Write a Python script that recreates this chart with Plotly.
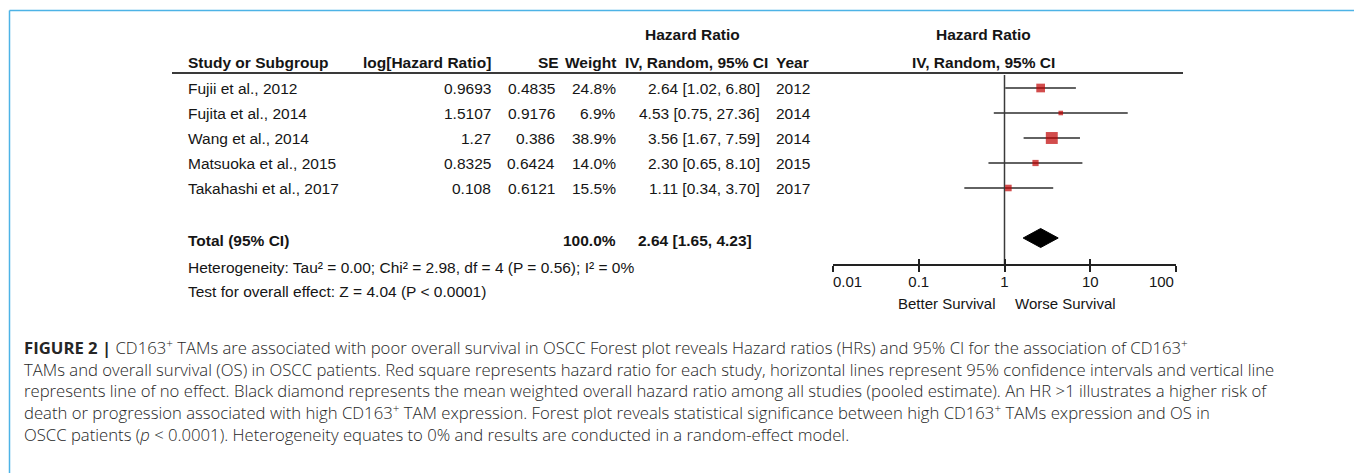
import plotly.graph_objects as go

# ---------------- data ----------------
studies = ["Fujii et al., 2012", "Fujita et al., 2014", "Wang et al., 2014",
           "Matsuoka et al., 2015", "Takahashi et al., 2017"]
log_hr = ["0.9693", "1.5107", "1.27", "0.8325", "0.108"]
se = ["0.4835", "0.9176", "0.386", "0.6424", "0.6121"]
weight = [24.8, 6.9, 38.9, 14.0, 15.5]
hr = [2.64, 4.53, 3.56, 2.30, 1.11]
ci_low = [1.02, 0.75, 1.67, 0.65, 0.34]
ci_high = [6.80, 27.36, 7.59, 8.10, 3.70]
years = [2012, 2014, 2014, 2015, 2017]
total_hr, total_low, total_high = 2.64, 1.65, 4.23
total_weight = 100.0
tick_vals = [0.01, 0.1, 1, 10, 100]
tick_text = ["0.01", "0.1", "1", "10", "100"]
heterogeneity = "Heterogeneity: Tau² = 0.00; Chi² = 2.98, df = 4 (P = 0.56); I² = 0%"
overall = "Test for overall effect: Z = 4.04 (P < 0.0001)"
caption_lines = [
    "<b>FIGURE 2 |</b> CD163<sup>+</sup> TAMs are associated with poor overall survival in OSCC Forest plot reveals Hazard ratios (HRs) and 95% CI for the association of CD163<sup>+</sup>",
    "TAMs and overall survival (OS) in OSCC patients. Red square represents hazard ratio for each study, horizontal lines represent 95% confidence intervals and vertical line",
    "represents line of no effect. Black diamond represents the mean weighted overall hazard ratio among all studies (pooled estimate). An HR >1 illustrates a higher risk of",
    "death or progression associated with high CD163<sup>+</sup> TAM expression. Forest plot reveals statistical significance between high CD163<sup>+</sup> TAMs expression and OS in",
    "OSCC patients (<i>p</i> &lt; 0.0001). Heterogeneity equates to 0% and results are conducted in a random-effect model.",
]

# ---------------- layout helpers ----------------
W, H = 1354, 473
ROW0, ROWH = 88, 25          # pixel y of first study row, row spacing
TOTAL_ROW = 6
AXIS_PX = 265


def row_of(px):
    return (px - ROW0) / ROWH


def py(px):
    return 1 - px / H


TFONT = "Liberation Sans, Arial, sans-serif"
TCOL = "#151515"
FS = 15.5

fig = go.Figure()

rows = list(range(len(studies)))

# CI lines
for i in rows:
    fig.add_trace(go.Scatter(x=[ci_low[i], ci_high[i]], y=[i, i], mode="lines",
                             line=dict(color="#2e2e2e", width=1.7),
                             xaxis="x2", yaxis="y", showlegend=False, hoverinfo="skip"))

# line of no effect
fig.add_trace(go.Scatter(x=[1, 1], y=[row_of(75), row_of(AXIS_PX)], mode="lines",
                         line=dict(color="#3a3a3a", width=1.5),
                         xaxis="x2", yaxis="y", showlegend=False, hoverinfo="skip"))

# squares
fig.add_trace(go.Scatter(x=hr, y=rows, mode="markers",
                         marker=dict(symbol="square", color="#bf0000",
                                     size=[3 + 0.23 * w for w in weight],
                                     line=dict(width=0)),
                         xaxis="x2", yaxis="y", showlegend=False, hoverinfo="skip"))

# diamond
dh = 0.38
fig.add_trace(go.Scatter(x=[total_low, total_hr, total_high, total_hr, total_low],
                         y=[TOTAL_ROW, TOTAL_ROW - dh, TOTAL_ROW, TOTAL_ROW + dh, TOTAL_ROW],
                         mode="lines", fill="toself", fillcolor="#000000",
                         line=dict(color="#000000", width=1),
                         xaxis="x2", yaxis="y", showlegend=False, hoverinfo="skip"))

# dummy trace for inside-tick axis
fig.add_trace(go.Scatter(x=[1], y=[TOTAL_ROW], mode="markers", marker=dict(opacity=0),
                         xaxis="x3", yaxis="y", showlegend=False, hoverinfo="skip"))

ann = []


def txt(x, y, s, anchor="left", bold=False, size=FS, yref="y", **kw):
    ann.append(dict(x=x, y=y, xref="x", yref=yref, text=f"<b>{s}</b>" if bold else s,
                    showarrow=False, xanchor=anchor, yanchor="middle",
                    font=dict(family=TFONT, size=size, color=TCOL), **kw))


# headers
txt(186, py(62), "Study or Subgroup", bold=True, yref="paper")
txt(493, py(62), "log[Hazard Ratio]", anchor="right", bold=True, yref="paper")
txt(561, py(62), "SE", anchor="right", bold=True, yref="paper")
txt(618, py(62), "Weight", anchor="right", bold=True, yref="paper")
txt(692, py(35), "Hazard Ratio", anchor="center", bold=True, yref="paper")
txt(696, py(62), "IV, Random, 95% CI", anchor="center", bold=True, yref="paper")
txt(774, py(62), "Year", bold=True, yref="paper")
txt(983, py(35), "Hazard Ratio", anchor="center", bold=True, yref="paper")
txt(983, py(62), "IV, Random, 95% CI", anchor="center", bold=True, yref="paper")

for i in rows:
    txt(186, i, studies[i])
    txt(493, i, log_hr[i], anchor="right")
    txt(557, i, se[i], anchor="right")
    txt(618, i, f"{weight[i]:.1f}%", anchor="right")
    txt(762, i, f"{hr[i]:.2f} [{ci_low[i]:.2f}, {ci_high[i]:.2f}]", anchor="right")
    txt(774, i, str(years[i]))

txt(186, TOTAL_ROW + 0.08, "Total (95% CI)", bold=True)
txt(618, TOTAL_ROW + 0.08, f"{total_weight:.1f}%", anchor="right", bold=True)
txt(754, TOTAL_ROW + 0.08, f"{total_hr:.2f} [{total_low:.2f}, {total_high:.2f}]", anchor="right", bold=True)
txt(186, py(267), heterogeneity, yref="paper")
txt(186, py(291), overall, yref="paper")

# favour labels
ann.append(dict(x=0, y=py(303), xref="x2", yref="paper", text="Better Survival", showarrow=False,
                xanchor="right", yanchor="middle", xshift=-6,
                font=dict(family=TFONT, size=15, color=TCOL)))
ann.append(dict(x=0, y=py(303), xref="x2", yref="paper", text="Worse Survival", showarrow=False,
                xanchor="left", yanchor="middle", xshift=8,
                font=dict(family=TFONT, size=15, color=TCOL)))

# caption (one multi-line text block)
ann.append(dict(x=22 / W, y=py(390.5), xref="paper", yref="paper",
                text="<br>".join(caption_lines), showarrow=False, align="left",
                xanchor="left", yanchor="middle",
                font=dict(family="Open Sans, Liberation Sans, sans-serif", size=16.7,
                          color="#262626", weight=300)))

shapes = [
    # blue frame
    dict(type="line", xref="paper", yref="paper", x0=9.5 / W, x1=1, y0=py(10.5), y1=py(10.5),
         line=dict(color="#4db3e6", width=1.5)),
    dict(type="line", xref="paper", yref="paper", x0=9.5 / W, x1=9.5 / W, y0=py(10.5), y1=0,
         line=dict(color="#4db3e6", width=1.5)),
    # header rule
    dict(type="line", xref="paper", yref="paper", x0=172 / W, x1=1183 / W, y0=py(73), y1=py(73),
         line=dict(color="#3a3a3a", width=2)),
]

axis_pos = 1 - AXIS_PX / H
fig.update_layout(
    width=W, height=H, autosize=False,
    margin=dict(l=0, r=0, t=0, b=0, pad=0, autoexpand=False),
    paper_bgcolor="white", plot_bgcolor="rgba(0,0,0,0)", showlegend=False,
    xaxis=dict(domain=[0, 1], range=[0, W], visible=False, automargin=False),
    xaxis2=dict(domain=[833 / W, 1176 / W], type="log", range=[-2, 2], anchor="free",
                position=axis_pos, showgrid=False, zeroline=False, showline=True,
                automargin=False, ticklabelstandoff=-3,
                linecolor="#222222", linewidth=2, ticks="outside", ticklen=6, tickwidth=1.5,
                tickcolor="#222222", tickvals=tick_vals,
                ticktext=["       " + tick_text[0]] + tick_text[1:4] + [tick_text[4] + "       "],
                tickfont=dict(family=TFONT, size=15, color=TCOL)),
    xaxis3=dict(domain=[833 / W, 1176 / W], type="log", range=[-2, 2], anchor="free",
                position=axis_pos, overlaying="x2", showgrid=False, zeroline=False,
                automargin=False,
                showline=False, ticks="inside", ticklen=6, tickwidth=1.5, tickcolor="#222222",
                tickvals=tick_vals, showticklabels=False),
    yaxis=dict(domain=[0, 1], range=[row_of(H), row_of(0)], visible=False, automargin=False),
    annotations=ann, shapes=shapes,
)

fig.write_html("out.html", config={"displayModeBar": False},
               post_script="document.body.style.margin='0';")
